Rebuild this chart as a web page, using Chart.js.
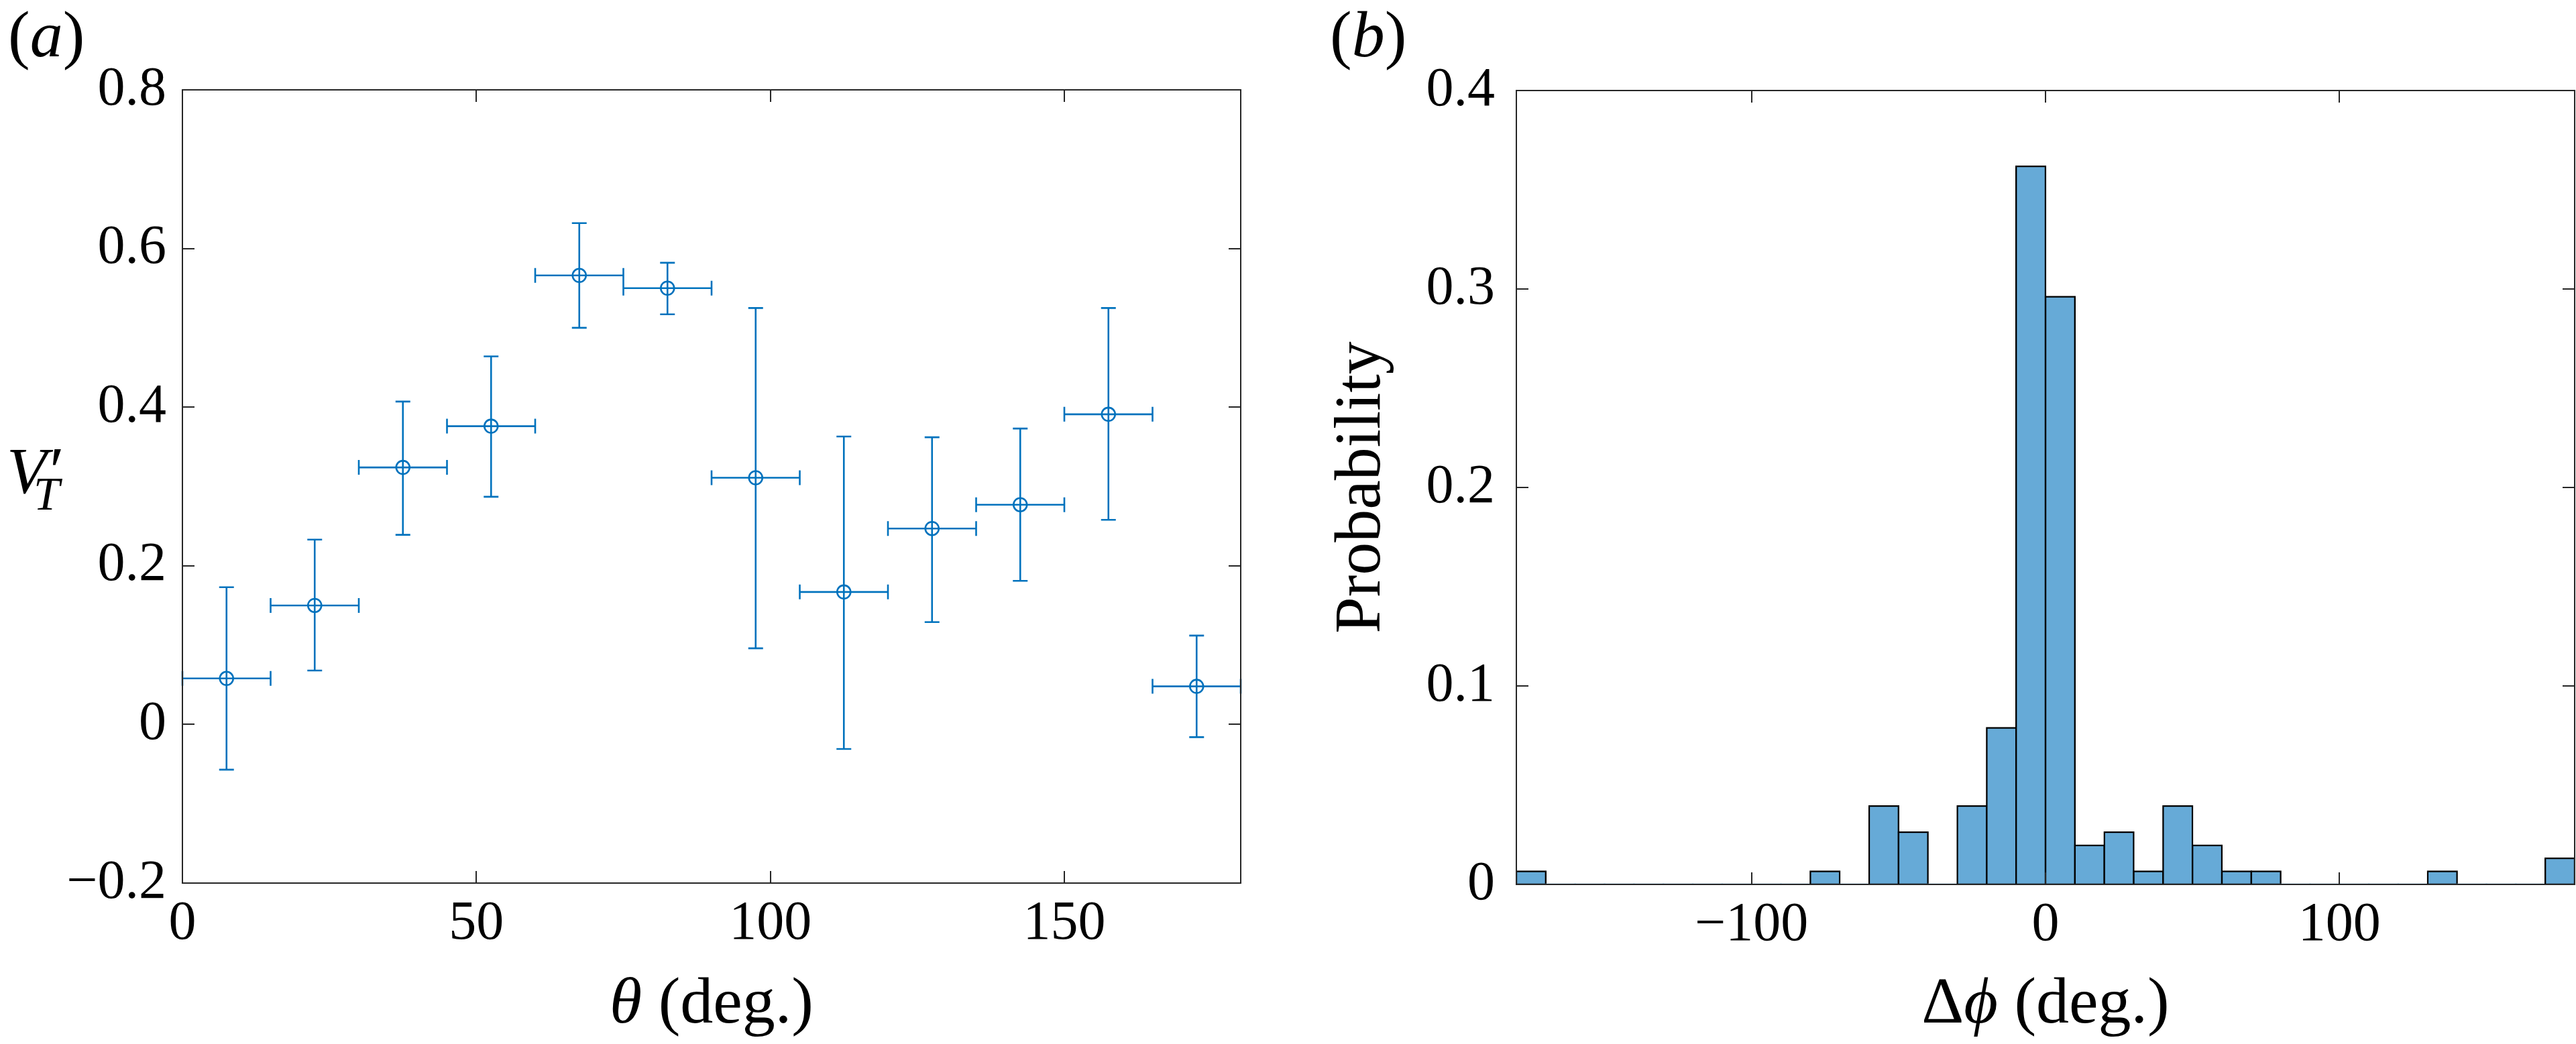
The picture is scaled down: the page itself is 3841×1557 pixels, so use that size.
<!DOCTYPE html>
<html><head><meta charset="utf-8">
<script src="https://cdn.jsdelivr.net/npm/chart.js@4.4.1/dist/chart.umd.min.js"></script>
<style>
html,body{margin:0;padding:0;background:#fff;width:3841px;height:1557px;overflow:hidden}
canvas{position:absolute;top:0}
#ca{left:0}
#cb{left:1900px}
</style></head><body>
<canvas id="ca" width="1900" height="1557"></canvas>
<canvas id="cb" width="1941" height="1557"></canvas>
<script>
// ---------- Panel (a) data ----------
const thetaCenters   = [7.5, 22.5, 37.5, 52.5, 67.5, 82.5, 97.5, 112.5, 127.5, 142.5, 157.5, 172.5];
const thetaHalfWidth = [7.5, 7.5, 7.5, 7.5, 7.5, 7.5, 7.5, 7.5, 7.5, 7.5, 7.5, 7.5];
const vtMean  = [0.058, 0.150, 0.324, 0.376, 0.566, 0.550, 0.311, 0.167, 0.247, 0.277, 0.391, 0.048];
const vtUpper = [0.173, 0.233, 0.407, 0.464, 0.632, 0.582, 0.525, 0.363, 0.362, 0.373, 0.525, 0.112];
const vtLower = [-0.057, 0.068, 0.239, 0.287, 0.500, 0.517, 0.096, -0.031, 0.129, 0.181, 0.258, -0.016];
const thetaTicks = [0, 50, 100, 150];
const thetaTickLabels = ['0', '50', '100', '150'];
const vtTicks = [-0.2, 0, 0.2, 0.4, 0.6, 0.8];
const vtTickLabels = ['\u22120.2', '0', '0.2', '0.4', '0.6', '0.8'];

// ---------- Panel (b) data ----------
const dphiBinCenters = [-175,-165,-155,-145,-135,-125,-115,-105,-95,-85,-75,-65,-55,-45,-35,-25,-15,-5,
                        5,15,25,35,45,55,65,75,85,95,105,115,125,135,145,155,165,175];
const dphiProb = [0.0066,0,0,0,0,0,0,0,0,0,0.0066,0,0.0395,0.0263,0,0.0395,0.0789,0.3618,
                  0.2961,0.0197,0.0263,0.0066,0.0395,0.0197,0.0066,0.0066,0,0,0,0,0,0.0066,0,0,0,0.0132];
const dphiTicks = [-100, 0, 100];
const dphiTickLabels = ['\u2212100', '0', '100'];
const probTicks = [0, 0.1, 0.2, 0.3, 0.4];
const probTickLabels = ['0', '0.1', '0.2', '0.3', '0.4'];

// ---------- styles ----------
const SERIF = '"Liberation Serif", "Times New Roman", serif';
const AXIS_COLOR = '#262626';
const BLUE = '#0072BD';
const BAR_FILL = '#66AAD7';
const TICK_FONT = 82;
const LABEL_FONT = 98;

function drawRuns(ctx, runs, x, y, size, align) {
  let total = 0;
  runs.forEach(r => { ctx.font = (r.style || 'normal') + ' ' + (r.size || size) + 'px ' + SERIF; r.w = ctx.measureText(r.t).width; total += r.w; });
  let cx = align === 'center' ? x - total / 2 : x;
  runs.forEach(r => {
    ctx.font = (r.style || 'normal') + ' ' + (r.size || size) + 'px ' + SERIF;
    ctx.fillText(r.t, cx, y + (r.dy || 0));
    cx += r.w;
  });
}

const boxPlugin = {
  id: 'box',
  afterDraw(chart) {
    const {ctx, chartArea: {left, right, top, bottom}, scales: {x, y}} = chart;
    const L = 18;
    ctx.save();
    ctx.strokeStyle = AXIS_COLOR;
    ctx.lineWidth = 2;
    ctx.beginPath();
    x.ticks.forEach(t => {
      const px = Math.round(x.getPixelForValue(t.value));
      ctx.moveTo(px, bottom); ctx.lineTo(px, bottom - L);
      ctx.moveTo(px, top); ctx.lineTo(px, top + L);
    });
    y.ticks.forEach(t => {
      const py = Math.round(y.getPixelForValue(t.value));
      ctx.moveTo(left, py); ctx.lineTo(left + L, py);
      ctx.moveTo(right, py); ctx.lineTo(right - L, py);
    });
    ctx.stroke();
    ctx.strokeRect(left, top, right - left, bottom - top);
    ctx.restore();
  }
};

const errorBarPlugin = {
  id: 'errbars',
  beforeDatasetsDraw(chart) {
    const {ctx, scales: {x, y}} = chart;
    const cap = 11;
    ctx.save();
    ctx.strokeStyle = BLUE;
    ctx.lineWidth = 2.6;
    ctx.beginPath();
    thetaCenters.forEach((c, i) => {
      const px = x.getPixelForValue(c);
      const py = y.getPixelForValue(vtMean[i]);
      const pu = y.getPixelForValue(vtUpper[i]);
      const pl = y.getPixelForValue(vtLower[i]);
      const xl = x.getPixelForValue(c - thetaHalfWidth[i]);
      const xr = x.getPixelForValue(c + thetaHalfWidth[i]);
      ctx.moveTo(px, pu); ctx.lineTo(px, pl);
      ctx.moveTo(px - cap, pu); ctx.lineTo(px + cap, pu);
      ctx.moveTo(px - cap, pl); ctx.lineTo(px + cap, pl);
      ctx.moveTo(xl, py); ctx.lineTo(xr, py);
      ctx.moveTo(xl, py - cap); ctx.lineTo(xl, py + cap);
      ctx.moveTo(xr, py - cap); ctx.lineTo(xr, py + cap);
    });
    ctx.stroke();
    ctx.restore();
  }
};

const textPluginA = {
  id: 'textA',
  afterDraw(chart) {
    const ctx = chart.ctx;
    const {left, right} = chart.chartArea;
    ctx.save();
    ctx.fillStyle = '#000';
    ctx.textBaseline = 'alphabetic';
    ctx.textAlign = 'left';
    drawRuns(ctx, [{t: '('}, {t: 'a', style: 'italic'}, {t: ')'}], 12, 84, LABEL_FONT);
    // V'_T
    ctx.font = 'italic ' + LABEL_FONT + 'px ' + SERIF;
    ctx.fillText('V', 10, 735);
    ctx.font = 'italic 70px ' + SERIF;
    ctx.fillText('T', 50, 760);
    ctx.font = 'normal 100px ' + SERIF;
    ctx.fillText('\u2032', 74, 735);
    // x title
    drawRuns(ctx, [{t: '\u03B8', style: 'italic'}, {t: ' (deg.)'}], (left + right) / 2, 1525, LABEL_FONT, 'center');
    ctx.restore();
  }
};

const textPluginB = {
  id: 'textB',
  afterDraw(chart) {
    const ctx = chart.ctx;
    const {left, right, top, bottom} = chart.chartArea;
    ctx.save();
    ctx.fillStyle = '#000';
    ctx.textBaseline = 'alphabetic';
    ctx.textAlign = 'left';
    drawRuns(ctx, [{t: '('}, {t: 'b', style: 'italic'}, {t: ')'}], 83, 84, LABEL_FONT);
    drawRuns(ctx, [{t: '\u0394'}, {t: '\u03D5', style: 'italic'}, {t: ' (deg.)'}], (left + right) / 2, 1525, LABEL_FONT, 'center');
    ctx.translate(157, (top + bottom) / 2);
    ctx.rotate(-Math.PI / 2);
    ctx.textAlign = 'center';
    ctx.font = 'normal ' + LABEL_FONT + 'px ' + SERIF;
    ctx.fillText('Probability', 0, 0);
    ctx.restore();
  }
};

function axisX(min, max, ticks, labels, height) {
  return {
    type: 'linear', position: 'bottom', min, max, offset: false,
    afterBuildTicks: s => { s.ticks = ticks.map(v => ({value: v})); },
    afterFit: s => { s.height = height; },
    grid: {display: false, drawTicks: false, offset: false},
    border: {display: false},
    ticks: {
      autoSkip: false, maxRotation: 0, minRotation: 0, padding: 12, color: '#000',
      font: {family: SERIF, size: TICK_FONT},
      callback: (v, i) => labels[i]
    }
  };
}
function axisY(min, max, ticks, labels, width, pad) {
  return {
    type: 'linear', position: 'left', min, max,
    afterBuildTicks: s => { s.ticks = ticks.map(v => ({value: v})); },
    afterFit: s => { s.width = width; },
    grid: {display: false, drawTicks: false},
    border: {display: false},
    ticks: {
      autoSkip: false, padding: pad, color: '#000',
      font: {family: SERIF, size: TICK_FONT},
      callback: (v, i) => labels[i]
    }
  };
}

const common = {
  responsive: false, animation: false, devicePixelRatio: 1, events: [],
  plugins: {legend: {display: false}, tooltip: {enabled: false}}
};

new Chart(document.getElementById('ca'), {
  type: 'scatter',
  data: {
    datasets: [{
      data: thetaCenters.map((c, i) => ({x: c, y: vtMean[i]})),
      showLine: false,
      pointStyle: 'circle',
      pointRadius: 10,
      pointBorderWidth: 2.6,
      borderColor: BLUE,
      backgroundColor: 'rgba(0,0,0,0)',
      clip: false
    }]
  },
  options: Object.assign({}, common, {
    layout: {padding: {left: 0, top: 134, right: 50, bottom: 0}},
    scales: {
      x: axisX(0, 180, thetaTicks, thetaTickLabels, 240),
      y: axisY(-0.2, 0.8, vtTicks, vtTickLabels, 272, 24)
    }
  }),
  plugins: [errorBarPlugin, boxPlugin, textPluginA]
});

new Chart(document.getElementById('cb'), {
  type: 'bar',
  data: {
    datasets: [{
      data: dphiBinCenters.map((c, i) => ({x: c, y: dphiProb[i]})),
      backgroundColor: BAR_FILL,
      borderColor: '#000',
      borderWidth: ctx => (ctx.raw && ctx.raw.y > 0 ? 2.4 : 0),
      borderSkipped: false,
      inflateAmount: 1.2,
      barPercentage: 1.0,
      categoryPercentage: 1.0
    }]
  },
  options: Object.assign({}, common, {
    layout: {padding: {left: 0, top: 135, right: 2, bottom: 0}},
    scales: {
      x: axisX(-180, 180, dphiTicks, dphiTickLabels, 238),
      y: axisY(0, 0.4, probTicks, probTickLabels, 361, 32)
    }
  }),
  plugins: [boxPlugin, textPluginB]
});
</script>
</body></html>
